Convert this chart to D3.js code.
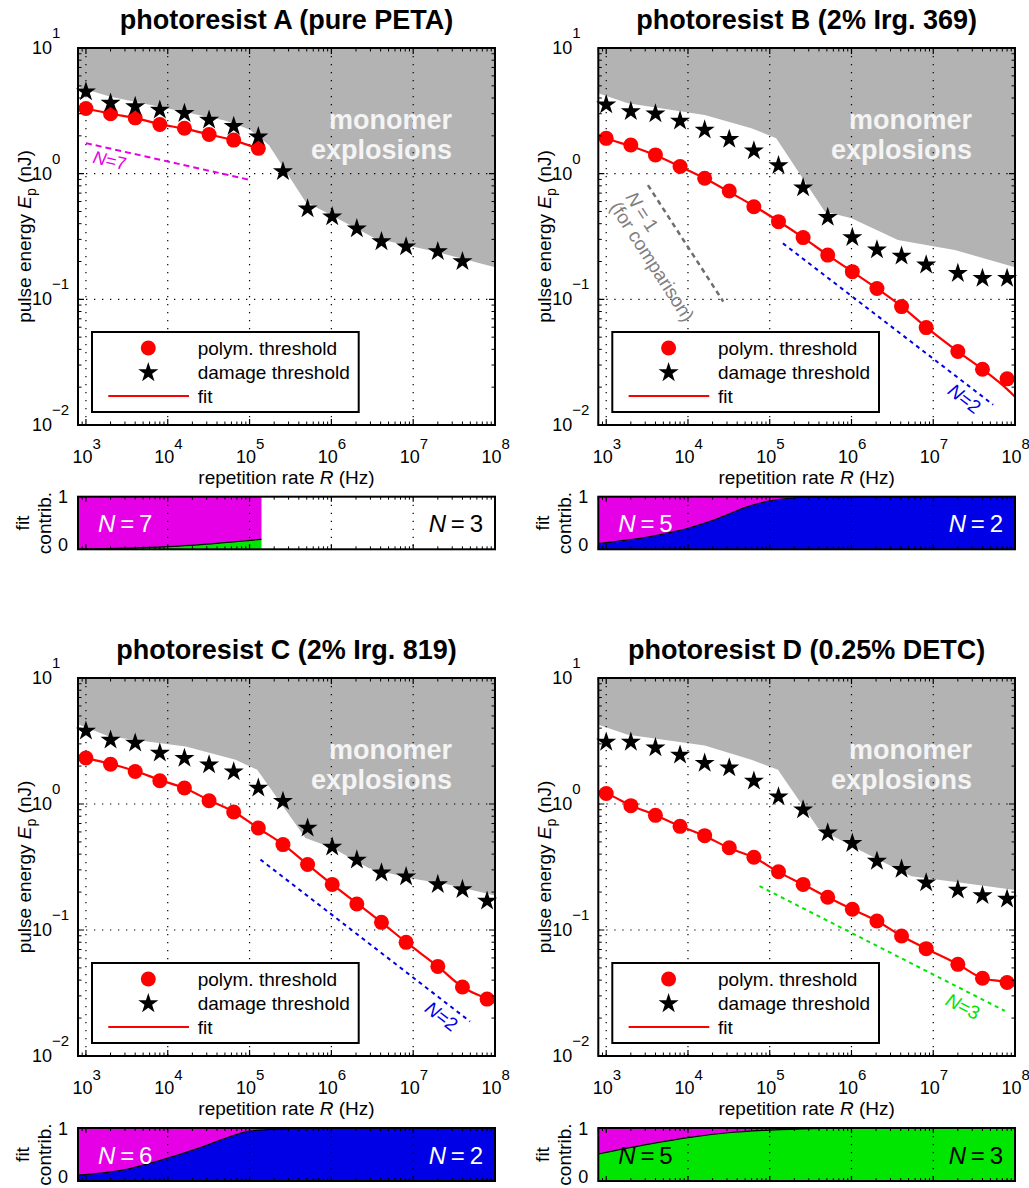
<!DOCTYPE html>
<html><head><meta charset="utf-8">
<script src="https://cdn.jsdelivr.net/npm/d3@7"></script>
<style>body{margin:0;background:#fff} text{font-family:"Liberation Sans",Arial,Helvetica,sans-serif}</style>
</head><body><script>
// ---------------- DATA ----------------
const R = [1e3,2e3,4e3,8e3,1.6e4,3.2e4,6.4e4,1.28e5,2.56e5,5.12e5,1.024e6,2.048e6,4.096e6,8.192e6,2e7,4e7,8e7];
const fitRFull = [800,1e3,2e3,4e3,8e3,1.6e4,3.2e4,6.4e4,1.28e5,2.56e5,5.12e5,1.024e6,2.048e6,4.096e6,8.192e6,2e7,4e7,8e7,1e8];

const damageA = [4.49,3.65,3.43,3.21,3.02,2.67,2.38,1.97,1.04,0.525,0.455,0.365,0.288,0.262,0.24,0.20];
const polymA  = [3.3,3.0,2.78,2.46,2.3,2.05,1.85,1.59];
const fitRA   = [1e3,2e3,4e3,8e3,1.6e4,3.2e4,6.4e4,1.28e5];
const fitA    = [3.3,3.0,2.77,2.48,2.28,2.05,1.84,1.58];

const damageB = [3.54,3.13,3.0,2.63,2.23,1.88,1.52,1.16,0.774,0.45,0.311,0.248,0.221,0.188,0.161,0.147,0.147];
const polymB  = [1.91,1.69,1.41,1.14,0.92,0.728,0.546,0.415,0.31,0.225,0.166,0.122,0.0875,0.0596,0.0384,0.0278,0.0233];
const fitB    = [2.03,1.91,1.66,1.40,1.14,0.92,0.715,0.553,0.418,0.31,0.225,0.166,0.122,0.088,0.060,0.0384,0.0278,0.0193,0.0168];

const damageC = [3.8,3.22,3.05,2.54,2.31,2.05,1.8,1.34,1.05,0.645,0.456,0.36,0.284,0.265,0.23,0.21,0.17];
const polymC  = [2.32,2.07,1.81,1.53,1.34,1.06,0.865,0.645,0.476,0.331,0.23,0.161,0.115,0.0798,0.0514,0.0353,0.0283];
const fitC    = [2.44,2.33,2.08,1.83,1.55,1.34,1.07,0.868,0.642,0.478,0.331,0.23,0.163,0.115,0.08,0.0514,0.0353,0.0283,0.0263];

const damageD = [3.1,3.1,2.8,2.45,2.11,1.94,1.52,1.14,0.9,0.592,0.487,0.352,0.304,0.237,0.208,0.188,0.176];
const polymD  = [1.21,0.97,0.813,0.665,0.561,0.449,0.378,0.29,0.23,0.182,0.146,0.118,0.0895,0.0711,0.0534,0.0414,0.0383];
const fitD    = [1.27,1.21,0.975,0.815,0.668,0.558,0.447,0.376,0.288,0.23,0.182,0.146,0.118,0.0895,0.0711,0.0534,0.0414,0.0383,0.0358];

// monomer-explosion boundary
const grayRA = [800,2e3,1e4,5e4,1e5,1.72e5,4.8e5,3.4e6,1.85e7,1e8];
const grayEA = [4.9,4.1,3.3,2.65,2.25,1.69,0.6,0.306,0.24,0.18];
const grayRB = [800,1.84e3,1.6e4,5.96e4,1.2e5,4.7e5,1e6,3.7e6,1.83e7,1e8];
const grayEB = [4.37,3.63,2.93,2.3,1.91,0.5,0.442,0.297,0.247,0.18];
const grayRC = [800,1.92e3,1.66e4,6.75e4,1.24e5,4.82e5,1.02e6,2.85e6,8.77e6,2.69e7,1e8];
const grayEC = [4.3,3.43,2.86,2.24,1.87,0.538,0.449,0.311,0.259,0.23,0.188];
const grayRD = [800,1.84e3,1.6e4,5.96e4,1.26e5,3.89e5,1.1e6,5.4e6,2.21e7,1e8];
const grayED = [4.25,3.54,2.91,2.24,1.87,0.646,0.449,0.267,0.237,0.208];

// reference slopes: [R0,E0,R1,E1]
const slopeA = [1e3,1.75,1.03e5,0.89];
const slopeB1 = [3.24e3,0.81,2.7e4,0.096];
const slopeB2 = [1.45e5,0.279,5.4e7,0.0145];
const slopeC2 = [1.36e5,0.362,4.95e7,0.0188];
const slopeD3 = [7.5e4,0.223,7.5e7,0.0228];

// fit contributions (fraction of the lower band)
const contribRA = [800,1e4,3e4,1.4e5];
const contribA  = [0.005,0.05,0.1,0.19];
const contribRB = [800,3.2e3,7e3,1e4,2.1e4,5.4e4,1e5,2.7e5,1e6,1e8];
const contribB  = [0.11,0.23,0.34,0.40,0.56,0.81,0.92,0.99,1,1];
const contribRC = [800,2.7e3,8.1e3,2.5e4,5.4e4,1e5,2.2e5,1e6,1e8];
const contribC  = [0.11,0.2,0.39,0.63,0.82,0.94,0.98,1,1];
const contribRD = [800,3.2e3,1e4,3.1e4,1e5,3.5e5,1e6,1e8];
const contribD  = [0.51,0.69,0.82,0.91,0.96,0.99,1,1];

const xTickExp = [3,4,5,6,7,8];
const yTickExp = [-2,-1,0,1];
const legendLabels = ["polym. threshold","damage threshold","fit"];
const titles = ["photoresist A (pure PETA)","photoresist B (2% Irg. 369)","photoresist C (2% Irg. 819)","photoresist D (0.25% DETC)"];

// ---------------- DRAWING ----------------
const MAG="#e600e6", BLU="#0000e6", GRN="#00e600", GRAYF="#b3b3b3";
const svg = d3.select("body").append("svg").attr("width",1029).attr("height",1188);
const xDomain=[800,1e8], yDomain=[0.01,10];
const FONT = 19;

const panels = [
 {x0:78,x1:495,y0:48,y1:425,cy0:496.7,cy1:549.3,title:titles[0],damage:damageA,polym:polymA,fitR:fitRA,fit:fitA,grayR:grayRA,grayE:grayEA,
  slopes:[{s:slopeA,c:MAG,dash:"6,4",w:2}],
  labels:[{t:["N","=7"],r:1.95e3,e:1.27,c:MAG,s:slopeA,fs:18}],
  cR:contribRA,cF:contribA,low:GRN,high:MAG,nl:{t:"7",c:"#fff"},nr:{t:"3",c:"#000"}},
 {x0:598.3,x1:1015,y0:48,y1:425,cy0:496.7,cy1:549.3,title:titles[1],damage:damageB,polym:polymB,fitR:fitRFull,fit:fitB,grayR:grayRB,grayE:grayEB,
  slopes:[{s:slopeB1,c:"#6e6e6e",dash:"5,4",w:2.5},{s:slopeB2,c:BLU,dash:"4,4",w:2}],
  labels:[{t:["N","\u2009=\u20091"],r:3.3e3,e:0.5,c:"#808080",s:slopeB1,fs:19,dx:-6},
          {t:["(for comparison)"],r:4.2e3,e:0.2,c:"#808080",s:slopeB1,fs:19,dx:-5},
          {t:["N","=2"],r:2.43e7,e:0.0163,c:BLU,s:slopeB2,fs:19}],
  cR:contribRB,cF:contribB,low:BLU,high:MAG,nl:{t:"5",c:"#fff"},nr:{t:"2",c:"#fff"}},
 {x0:78,x1:495,y0:678,y1:1056,cy0:1128,cy1:1181,title:titles[2],damage:damageC,polym:polymC,fitR:fitRFull,fit:fitC,grayR:grayRC,grayE:grayEC,
  slopes:[{s:slopeC2,c:BLU,dash:"4,4",w:2}],
  labels:[{t:["N","=2"],r:2.24e7,e:0.0208,c:BLU,s:slopeC2,fs:19}],
  cR:contribRC,cF:contribC,low:BLU,high:MAG,nl:{t:"6",c:"#fff"},nr:{t:"2",c:"#fff"}},
 {x0:598.3,x1:1015,y0:678,y1:1056,cy0:1128,cy1:1181,title:titles[3],damage:damageD,polym:polymD,fitR:fitRFull,fit:fitD,grayR:grayRD,grayE:grayED,
  slopes:[{s:slopeD3,c:GRN,dash:"4,4",w:2}],
  labels:[{t:["N","=3"],r:2.32e7,e:0.0249,c:GRN,s:slopeD3,fs:19}],
  cR:contribRD,cF:contribD,low:GRN,high:MAG,nl:{t:"5",c:"#000"},nr:{t:"3",c:"#000"}}
];

const starPath = d3.symbol().type(d3.symbolStar).size(125)();

function minorTicks(lo,hi){
  const out=[];
  for(let k=Math.floor(Math.log10(lo));k<=Math.ceil(Math.log10(hi));k++)
    for(let m=2;m<=9;m++){const v=m*Math.pow(10,k); if(v>=lo*0.999&&v<=hi*1.001) out.push(v);}
  return out;
}
const sup = e => (e<0?"\u2212"+(-e):""+e);

panels.forEach((p,pi)=>{
  const g = svg.append("g");
  const x = d3.scaleLog().domain(xDomain).range([p.x0,p.x1]);
  const y = d3.scaleLog().domain(yDomain).range([p.y1,p.y0]);
  const cid="clip"+pi;
  svg.append("clipPath").attr("id",cid).append("rect").attr("x",p.x0).attr("y",p.y0).attr("width",p.x1-p.x0).attr("height",p.y1-p.y0);

  // title
  g.append("text").attr("x",(p.x0+p.x1)/2).attr("y",p.y0-19).attr("text-anchor","middle")
    .attr("font-size",27).attr("font-weight","bold").text(p.title);

  // gray region
  const gp = p.grayR.map((r,i)=>[x(r),y(p.grayE[i])]);
  gp.push([x(xDomain[1]),y(yDomain[1])],[x(xDomain[0]),y(yDomain[1])]);
  g.append("path").attr("d","M"+gp.join("L")+"Z").attr("fill",GRAYF).attr("clip-path",`url(#${cid})`);

  // grid
  xTickExp.slice(0,-1).forEach(e=>{
    g.append("line").attr("x1",x(10**e)).attr("x2",x(10**e)).attr("y1",p.y0).attr("y2",p.y1)
     .attr("stroke","#000").attr("stroke-width",1.2).attr("stroke-dasharray","1.3,6.7");});
  [-1,0].forEach(e=>{
    g.append("line").attr("x1",p.x0).attr("x2",p.x1).attr("y1",y(10**e)).attr("y2",y(10**e))
     .attr("stroke","#000").attr("stroke-width",1.2).attr("stroke-dasharray","1.3,6.7");});

  // monomer explosions text
  const mt = g.append("text").attr("text-anchor","end").attr("font-size",27).attr("font-weight","bold").attr("fill","#f4f4f4");
  mt.append("tspan").attr("x",p.x1-43).attr("y",p.y0+81).text("monomer");
  mt.append("tspan").attr("x",p.x1-43).attr("y",p.y0+111).text("explosions");

  // reference slopes
  p.slopes.forEach(s=>{
    g.append("line").attr("x1",x(s.s[0])).attr("y1",y(s.s[1])).attr("x2",x(s.s[2])).attr("y2",y(s.s[3]))
     .attr("stroke",s.c).attr("stroke-width",s.w).attr("stroke-dasharray",s.dash);
  });
  p.labels.forEach(l=>{
    const ang = Math.atan2(y(l.s[3])-y(l.s[1]), x(l.s[2])-x(l.s[0]))*180/Math.PI;
    const t = g.append("text").attr("transform",`translate(${x(l.r)+(l.dx||0)},${y(l.e)}) rotate(${ang})`)
      .attr("text-anchor","middle").attr("dominant-baseline","central").attr("font-size",l.fs).attr("fill",l.c);
    if(l.t.length===2){ t.append("tspan").attr("font-style","italic").text(l.t[0]); t.append("tspan").text(l.t[1]); }
    else t.text(l.t[0]);
  });

  // fit line
  const ln = d3.line().x((d,i)=>x(p.fitR[i])).y(d=>y(d)).curve(d3.curveMonotoneX);
  g.append("path").attr("d",ln(p.fit)).attr("fill","none").attr("stroke","#ff0000").attr("stroke-width",2.2).attr("clip-path",`url(#${cid})`);

  // markers
  g.selectAll(null).data(p.polym).enter().append("circle").attr("cx",(d,i)=>x(R[i])).attr("cy",d=>y(d)).attr("r",7.5).attr("fill","#ff0000");
  g.selectAll(null).data(p.damage).enter().append("path").attr("d",starPath)
    .attr("transform",(d,i)=>`translate(${x(R[i])},${y(d)})`).attr("fill","#000");

  // legend
  const lx=p.x0+14, ly=p.y1-13-80;
  g.append("rect").attr("x",lx).attr("y",ly).attr("width",266.7).attr("height",80).attr("fill","#fff").attr("stroke","#000").attr("stroke-width",2);
  g.append("circle").attr("cx",lx+56.3).attr("cy",ly+16).attr("r",7.5).attr("fill","#ff0000");
  g.append("path").attr("d",starPath).attr("transform",`translate(${lx+56.3},${ly+40.6})`).attr("fill","#000");
  g.append("line").attr("x1",lx+16.3).attr("x2",lx+97).attr("y1",ly+64).attr("y2",ly+64).attr("stroke","#ff0000").attr("stroke-width",2.2);
  legendLabels.forEach((s,i)=>g.append("text").attr("x",lx+105.7).attr("y",ly+23+i*23.8).attr("font-size",FONT).text(s));

  // axes frame, ticks
  function frameTicks(top,bot,left,right,xs,yMaj,yMin,majL,minL){
    xTickExp.forEach(e=>{const xv=xs(10**e);
      g.append("path").attr("d",`M${xv},${bot}v${-majL}M${xv},${top}v${majL}`).attr("stroke","#000").attr("stroke-width",1.2);});
    minorTicks(xDomain[0],xDomain[1]).forEach(v=>{const xv=xs(v);
      g.append("path").attr("d",`M${xv},${bot}v${-minL}M${xv},${top}v${minL}`).attr("stroke","#000").attr("stroke-width",1);});
    yMaj.forEach(yv=>g.append("path").attr("d",`M${left},${yv}h${majL}M${right},${yv}h${-majL}`).attr("stroke","#000").attr("stroke-width",1.2));
    yMin.forEach(yv=>g.append("path").attr("d",`M${left},${yv}h${minL}M${right},${yv}h${-minL}`).attr("stroke","#000").attr("stroke-width",1));
    g.append("rect").attr("x",left).attr("y",top).attr("width",right-left).attr("height",bot-top).attr("fill","none").attr("stroke","#000").attr("stroke-width",2);
  }
  frameTicks(p.y0,p.y1,p.x0,p.x1,x,yTickExp.map(e=>y(10**e)),minorTicks(0.01,10).map(v=>y(v)),6,3.5);

  // tick labels
  xTickExp.forEach(e=>{const xv=x(10**e);
    g.append("text").attr("x",xv+6.5).attr("y",p.y1+38).attr("text-anchor","end").attr("font-size",18).text("10");
    g.append("text").attr("x",xv+6.5).attr("y",p.y1+24).attr("font-size",15).text(sup(e));});
  yTickExp.forEach(e=>{const yv=y(10**e);
    g.append("text").attr("x",p.x0-26).attr("y",yv+6).attr("text-anchor","end").attr("font-size",18).text("10");
    g.append("text").attr("x",p.x0-26).attr("y",yv-10).attr("font-size",15).text(sup(e));});

  // axis labels
  const xl = g.append("text").attr("x",(p.x0+p.x1)/2).attr("y",p.y1+59).attr("text-anchor","middle").attr("font-size",FONT);
  xl.append("tspan").text("repetition rate ");
  xl.append("tspan").attr("font-style","italic").text("R");
  xl.append("tspan").text(" (Hz)");
  const yl = g.append("text").attr("transform",`translate(${p.x0-47},${(p.y0+p.y1)/2}) rotate(-90)`).attr("text-anchor","middle").attr("font-size",FONT);
  yl.append("tspan").text("pulse energy ");
  yl.append("tspan").attr("font-style","italic").text("E");
  yl.append("tspan").attr("dy",5).attr("font-size",14).text("p");
  yl.append("tspan").attr("dy",-5).text(" (nJ)");

  // ---- contribution panel ----
  const cy = d3.scaleLinear().domain([0,1]).range([p.cy1,p.cy0]);
  const ccid="cclip"+pi;
  svg.append("clipPath").attr("id",ccid).append("rect").attr("x",p.x0).attr("y",p.cy0).attr("width",p.x1-p.x0).attr("height",p.cy1-p.cy0);
  const area = d3.area().x((d,i)=>x(p.cR[i])).curve(d3.curveMonotoneX);
  g.append("path").attr("d",area.y0(cy(0)).y1(d=>cy(d))(p.cF)).attr("fill",p.low).attr("clip-path",`url(#${ccid})`);
  g.append("path").attr("d",area.y0(d=>cy(d)).y1(cy(1))(p.cF)).attr("fill",p.high).attr("clip-path",`url(#${ccid})`);
  g.append("path").attr("d",d3.line().x((d,i)=>x(p.cR[i])).y(d=>cy(d)).curve(d3.curveMonotoneX)(p.cF))
    .attr("fill","none").attr("stroke","#000").attr("stroke-width",1.2).attr("clip-path",`url(#${ccid})`);
  xTickExp.slice(1,-1).forEach(e=>{
    g.append("line").attr("x1",x(10**e)).attr("x2",x(10**e)).attr("y1",p.cy0).attr("y2",p.cy1)
     .attr("stroke","#000").attr("stroke-width",1.2).attr("stroke-dasharray","1.3,6.7");});
  frameTicks(p.cy0,p.cy1,p.x0,p.x1,x,[],[],5,3);
  [0,1].forEach(v=>g.append("text").attr("x",p.x0-10).attr("y",cy(v)+(v===0?2:6.5)).attr("text-anchor","end").attr("font-size",18).text(v));
  g.append("text").attr("transform",`translate(${p.x0-49},${(p.cy0+p.cy1)/2}) rotate(-90)`).attr("text-anchor","middle").attr("font-size",FONT).text("fit");
  g.append("text").attr("transform",`translate(${p.x0-27},${(p.cy0+p.cy1)/2}) rotate(-90)`).attr("text-anchor","middle").attr("font-size",FONT).text("contrib.");
  function nlab(xp,anchor,o){
    const t=g.append("text").attr("x",xp).attr("y",p.cy0+35.5).attr("text-anchor",anchor).attr("font-size",24).attr("fill",o.c);
    t.append("tspan").attr("font-style","italic").text("N");
    t.append("tspan").text("\u2009=\u2009"+o.t);
  }
  nlab(p.x0+20,"start",p.nl);
  nlab(p.x1-12,"end",p.nr);
});
</script></body></html>
